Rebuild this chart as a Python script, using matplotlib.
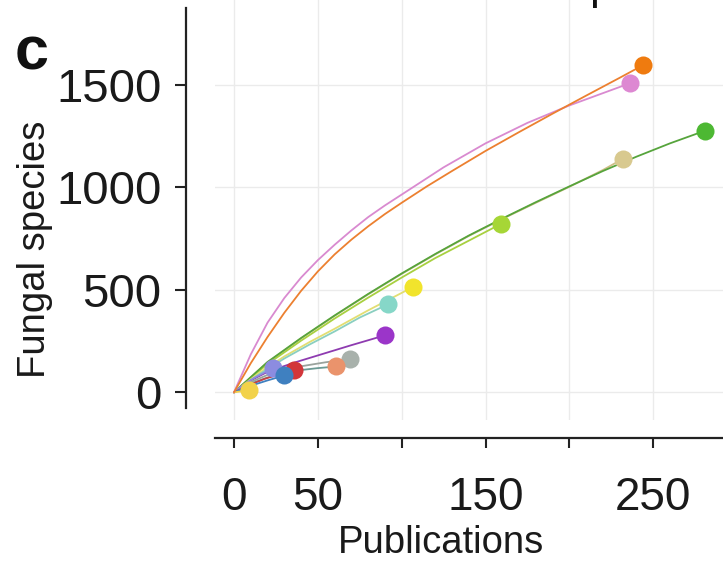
import matplotlib
matplotlib.use("Agg")
import matplotlib.pyplot as plt

plt.rcParams['font.family'] = ['Liberation Sans', 'DejaVu Sans']

W, H, DPI = 723, 561, 100

# Accumulation curves: publications (x) vs. fungal species (y)
orange_pubs = [0, 10, 20, 30, 40, 50, 60, 70, 80, 90, 100, 115, 130, 150, 170, 190, 210, 230, 244]
orange_species = [0, 142, 270, 388, 495, 590, 673, 745, 810, 870, 925, 1005, 1080, 1178, 1270, 1360, 1448, 1535, 1597]

pink_pubs = [0, 10, 20, 30, 40, 50, 60, 70, 80, 90, 100, 125, 150, 175, 200, 220, 236]
pink_species = [0, 185, 340, 460, 560, 645, 720, 790, 855, 912, 965, 1098, 1215, 1315, 1400, 1460, 1508]

green_pubs = [0, 20, 40, 60, 80, 100, 120, 140, 160, 180, 200, 220, 240, 260, 281]
green_species = [0, 148, 265, 375, 480, 580, 675, 765, 848, 928, 1005, 1080, 1150, 1215, 1277]

tan_pubs = [0, 20, 40, 60, 80, 100, 120, 140, 160, 180, 200, 220, 232]
tan_species = [0, 146, 263, 373, 478, 578, 673, 763, 846, 925, 1003, 1085, 1140]

lime_pubs = [0, 20, 40, 60, 80, 100, 120, 140, 159]
lime_species = [0, 138, 252, 360, 462, 560, 655, 740, 821]

yellow_pubs = [0, 15, 30, 45, 60, 80, 107]
yellow_species = [0, 95, 175, 245, 310, 400, 515]

teal_pubs = [0, 15, 30, 45, 60, 75, 92]
teal_species = [0, 88, 165, 233, 297, 365, 430]

purple_pubs = [0, 10, 20, 36, 50, 70, 90]
purple_species = [0, 58, 100, 145, 180, 230, 278]

gray_pubs = [0, 10, 20, 40, 55, 69]
gray_species = [0, 50, 85, 127, 147, 161]

salmon_pubs = [0, 10, 20, 36, 50, 61]
salmon_species = [0, 42, 72, 105, 118, 126]

red_pubs = [0, 9, 18, 27, 36]
red_species = [0, 35, 65, 88, 108]

blue_pubs = [0, 10, 20, 30]
blue_species = [0, 32, 58, 82]

lavender_pubs = [0, 6, 12, 18, 23]
lavender_species = [0, 38, 70, 96, 117]

gold_pubs = [0, 9]
gold_species = [0, 10]

# (x, y, point colour, line colour), in drawing order
series = [
    (tan_pubs, tan_species, "#D8C98F", "#CDBE86"),
    (lime_pubs, lime_species, "#A6D636", "#A8D040"),
    (green_pubs, green_species, "#4DB833", "#56A43C"),
    (yellow_pubs, yellow_species, "#F1E42C", "#E2DE72"),
    (teal_pubs, teal_species, "#86D7C8", "#8ACFC0"),
    (purple_pubs, purple_species, "#9B35C9", "#8E3BB0"),
    (gray_pubs, gray_species, "#A8B1AB", "#9AA39D"),
    (salmon_pubs, salmon_species, "#EA936C", "#6C9A94"),
    (lavender_pubs, lavender_species, "#8C8CE0", "#8C8CE0"),
    (red_pubs, red_species, "#D2363A", "#C84045"),
    (blue_pubs, blue_species, "#3F80C0", "#3F80C0"),
    (gold_pubs, gold_species, "#F2D24A", "#F2D24A"),
    (pink_pubs, pink_species, "#DD88D2", "#D98AD0"),
    (orange_pubs, orange_species, "#EF7B0F", "#EC8030"),
]

x_ticks = [0, 50, 100, 150, 200, 250]
x_tick_labels = ["0", "50", "", "150", "", "250"]
y_ticks = [0, 500, 1000, 1500]
y_tick_labels = ["0", "500", "1000", "1500"]

fig = plt.figure(figsize=(W / DPI, H / DPI), dpi=DPI)
fig.patch.set_facecolor("white")

# panel area in pixels
left_px, right_px, top_px, bottom_px = 215, 723, 0, 420
ax = fig.add_axes([left_px / W, 1 - bottom_px / H,
                   (right_px - left_px) / W, (bottom_px - top_px) / H])

x0_px, x_scale = 234.0, 1.677      # pixel of x=0, pixels per unit
y0_px, y_scale = 392.3, 0.2049     # pixel of y=0, pixels per unit
ax.set_xlim((left_px - x0_px) / x_scale, (right_px - x0_px) / x_scale)
ax.set_ylim((y0_px - bottom_px) / y_scale, (y0_px - top_px) / y_scale)

ax.set_facecolor("white")
ax.grid(True, color="#EBEBEB", linewidth=1.0)
ax.set_axisbelow(True)

for xs, ys, pc, lc in series:
    ax.plot(xs, ys, color=lc, linewidth=1.3, solid_capstyle="round",
            solid_joinstyle="round", zorder=2)

point_order = [8, 9, 10, 11, 6, 7, 5, 4, 3, 1, 0, 12, 13, 2]
for i in point_order:
    xs, ys, pc, lc = series[i]
    ax.plot(xs[-1], ys[-1], "o", color=pc, markersize=13,
            markeredgewidth=0, zorder=3, clip_on=False)

# detached axis lines
for side in ("top", "right"):
    ax.spines[side].set_visible(False)
ax.spines["left"].set_position(("outward", 21.1))
ax.spines["bottom"].set_position(("outward", 13.2))
ax.spines["left"].set_bounds(-77, 1876)
ax.spines["bottom"].set_bounds((left_px - x0_px) / x_scale, 300)
for side in ("left", "bottom"):
    ax.spines[side].set_linewidth(1.6)
    ax.spines[side].set_color("#222222")

ax.set_xticks(x_ticks)
ax.set_xticklabels(x_tick_labels)
ax.set_yticks(y_ticks)
ax.set_yticklabels(y_tick_labels)
ax.tick_params(axis="both", direction="out", width=1.5, color="#222222",
               labelcolor="#1a1a1a")
ax.tick_params(axis="x", length=7.2, pad=20, labelsize=33)
ax.tick_params(axis="y", length=7.6, pad=10, labelsize=34)

fig.text(35 / W, 1 - 249 / H, "Fungal species", rotation=90, fontsize=27.5,
         color="#1a1a1a", ha="center", va="center")
fig.text(441 / W, 1 - 543 / H, "Publications", fontsize=27.5,
         color="#1a1a1a", ha="center", va="center")
fig.text(15 / W, 1 - 70 / H, "c", fontsize=44, fontweight="bold",
         color="#111111", ha="left", va="baseline")
fig.text(589 / W, 1 + 1 / H, "p", fontsize=32, color="#111111",
         ha="left", va="baseline")

fig.savefig("out.png", dpi=DPI, facecolor="white")
